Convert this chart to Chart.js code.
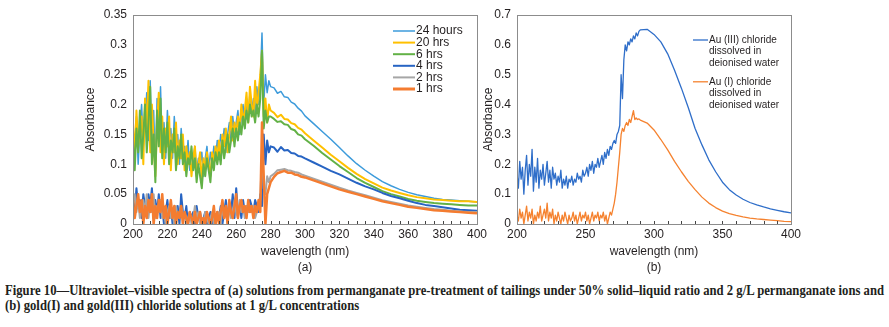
<!DOCTYPE html>
<html>
<head>
<meta charset="utf-8">
<script src="https://cdn.jsdelivr.net/npm/chart.js@4.4.1/dist/chart.umd.min.js"></script>
<style>
  body { margin: 0; background: #fff; width: 889px; height: 327px; position: relative; overflow: hidden; }
  #boxA { position: absolute; left: 0; top: 0; }
  #boxB { position: absolute; left: 440px; top: 0; }
  .caption { position: absolute; left: 5px; font-family: 'Liberation Serif', 'DejaVu Serif', serif; font-weight: bold;
             font-size: 14px; line-height: 15px; color: #231f20; white-space: nowrap; transform-origin: 0 0; }
</style>
</head>
<body>
<canvas id="boxA" width="490" height="275"></canvas>
<canvas id="boxB" width="364" height="275"></canvas>
<div class="caption" id="cap1" style="top:283px">Figure 10—Ultraviolet–visible spectra of (a) solutions from permanganate pre-treatment of tailings under 50% solid–liquid ratio and 2 g/L permanganate ions and</div>
<div class="caption" id="cap2" style="top:298px">(b) gold(I) and gold(III) chloride solutions at 1 g/L concentrations</div>
<script>
// ---- panel (a) : wavelength (nm) ----
const waveA = [200, 201, 202, 203, 204, 205, 206, 207, 208, 209,
  210, 211, 212, 213, 214, 215, 216, 217, 218, 219,
  220, 221, 222, 223, 224, 225, 226, 227, 228, 229,
  230, 231, 232, 233, 234, 235, 236, 237, 238, 239,
  240, 241, 242, 243, 244, 245, 246, 247, 248, 249,
  250, 251, 252, 253, 254, 255, 256, 257, 258, 259,
  260, 261, 262, 263, 264, 265, 266, 267, 268, 269,
  270, 271, 272, 273, 274, 275, 276, 277, 278, 279,
  280, 282, 284, 286, 288, 290, 292, 294, 296, 298, 300,
  305, 310, 315, 320, 325, 330, 335, 340, 345, 350,
  355, 360, 365, 370, 375, 380, 385, 390, 395, 400];

const hours24 = [0.15, 0.12, 0.18, 0.10, 0.16, 0.20, 0.13, 0.17, 0.22, 0.14,
  0.24, 0.12, 0.19, 0.09, 0.21, 0.15, 0.23, 0.13, 0.17, 0.11,
  0.19, 0.14, 0.16, 0.11, 0.18, 0.13, 0.15, 0.10, 0.16, 0.12,
  0.13, 0.10, 0.14, 0.09, 0.12, 0.11, 0.13, 0.09, 0.11, 0.10,
  0.12, 0.08, 0.11, 0.13, 0.09, 0.12, 0.10, 0.13, 0.11, 0.14,
  0.12, 0.15, 0.13, 0.16, 0.12, 0.15, 0.17, 0.14, 0.18, 0.15,
  0.17, 0.19, 0.15, 0.18, 0.20, 0.16, 0.21, 0.18, 0.22, 0.19,
  0.21, 0.18, 0.23, 0.20, 0.24, 0.32, 0.20, 0.25, 0.22, 0.24,
  0.23, 0.228, 0.219, 0.222, 0.213, 0.212, 0.204, 0.201, 0.194, 0.189, 0.181,
  0.168, 0.155, 0.142, 0.128, 0.114, 0.101, 0.090, 0.080, 0.071, 0.064,
  0.058, 0.053, 0.049, 0.046, 0.043, 0.041, 0.040, 0.039, 0.038, 0.037];

const hrs20 = [0.17, 0.11, 0.19, 0.13, 0.15, 0.18, 0.10, 0.21, 0.16, 0.24,
  0.12, 0.20, 0.14, 0.08, 0.17, 0.22, 0.12, 0.18, 0.10, 0.16,
  0.13, 0.18, 0.09, 0.15, 0.12, 0.17, 0.10, 0.14, 0.11, 0.15,
  0.09, 0.13, 0.10, 0.12, 0.08, 0.11, 0.13, 0.08, 0.10, 0.12,
  0.07, 0.11, 0.09, 0.12, 0.10, 0.08, 0.12, 0.10, 0.13, 0.11,
  0.14, 0.11, 0.15, 0.13, 0.16, 0.12, 0.15, 0.18, 0.14, 0.17,
  0.15, 0.18, 0.16, 0.20, 0.17, 0.19, 0.22, 0.17, 0.23, 0.20,
  0.18, 0.24, 0.19, 0.22, 0.25, 0.29, 0.18, 0.21, 0.17, 0.20,
  0.19, 0.186, 0.179, 0.183, 0.176, 0.175, 0.169, 0.167, 0.161, 0.158, 0.152,
  0.140, 0.128, 0.116, 0.105, 0.094, 0.084, 0.075, 0.068, 0.061, 0.056,
  0.052, 0.048, 0.045, 0.043, 0.041, 0.040, 0.039, 0.038, 0.038, 0.037];

const hrs6 = [0.14, 0.09, 0.16, 0.12, 0.19, 0.11, 0.15, 0.20, 0.12, 0.17,
  0.23, 0.10, 0.15, 0.07, 0.19, 0.13, 0.21, 0.11, 0.16, 0.12,
  0.17, 0.10, 0.14, 0.12, 0.16, 0.09, 0.13, 0.11, 0.15, 0.10,
  0.12, 0.08, 0.11, 0.10, 0.13, 0.09, 0.11, 0.07, 0.10, 0.08,
  0.06, 0.10, 0.08, 0.11, 0.09, 0.07, 0.11, 0.09, 0.12, 0.10,
  0.12, 0.10, 0.14, 0.11, 0.13, 0.15, 0.12, 0.14, 0.16, 0.13,
  0.16, 0.14, 0.17, 0.15, 0.18, 0.16, 0.19, 0.17, 0.20, 0.18,
  0.19, 0.17, 0.20, 0.18, 0.21, 0.29, 0.16, 0.19, 0.17, 0.18,
  0.18, 0.176, 0.171, 0.172, 0.167, 0.166, 0.159, 0.157, 0.150, 0.148, 0.142,
  0.131, 0.119, 0.108, 0.097, 0.087, 0.077, 0.069, 0.062, 0.055, 0.050,
  0.046, 0.042, 0.039, 0.037, 0.035, 0.034, 0.033, 0.032, 0.031, 0.031];

const hrs4 = [0.05, 0.02, 0.06, 0.03, 0.04, 0.01, 0.05, 0.03, 0.02, 0.05,
  0.03, 0.06, 0.01, 0.04, 0.02, 0.05, 0.01, 0.03, 0.00, 0.02,
  0.04, 0.01, 0.03, 0.00, 0.02, 0.01, 0.03, 0.00, 0.05, 0.02,
  0.01, 0.03, 0.00, 0.02, 0.01, 0.02, 0.00, 0.03, 0.01, 0.02,
  0.00, 0.01, 0.02, 0.00, 0.01, 0.02, 0.00, 0.01, 0.00, 0.02,
  0.01, 0.03, 0.00, 0.02, 0.04, 0.01, 0.03, 0.02, 0.05, 0.01,
  0.06, 0.02, 0.03, 0.01, 0.04, 0.02, 0.03, 0.02, 0.04, 0.03,
  0.02, 0.04, 0.03, 0.02, 0.05, 0.03, 0.15, 0.10, 0.14, 0.12,
  0.13, 0.128, 0.121, 0.129, 0.123, 0.124, 0.119, 0.118, 0.114, 0.113, 0.110,
  0.103, 0.096, 0.089, 0.083, 0.076, 0.069, 0.063, 0.058, 0.052, 0.047,
  0.043, 0.039, 0.035, 0.032, 0.030, 0.028, 0.026, 0.024, 0.023, 0.022];

const hrs2 = [0.03, 0.05, 0.02, 0.04, 0.01, 0.03, 0.04, 0.02, 0.05, 0.01,
  0.04, 0.02, 0.05, 0.01, 0.03, 0.02, 0.04, 0.01, 0.02, 0.00,
  0.02, 0.03, 0.01, 0.02, 0.00, 0.03, 0.01, 0.02, 0.03, 0.01,
  0.02, 0.00, 0.01, 0.02, 0.00, 0.01, 0.03, 0.01, 0.02, 0.00,
  0.01, 0.00, 0.02, 0.01, 0.00, 0.01, 0.02, 0.00, 0.01, 0.01,
  0.02, 0.00, 0.03, 0.01, 0.02, 0.00, 0.03, 0.01, 0.02, 0.04,
  0.02, 0.01, 0.04, 0.02, 0.03, 0.01, 0.03, 0.02, 0.03, 0.02,
  0.03, 0.01, 0.02, 0.03, 0.04, 0.12, 0.06, 0.05, 0.08, 0.07,
  0.08, 0.084, 0.090, 0.091, 0.092, 0.090, 0.089, 0.087, 0.086, 0.083, 0.081,
  0.076, 0.071, 0.066, 0.061, 0.056, 0.052, 0.048, 0.044, 0.040, 0.037,
  0.034, 0.031, 0.029, 0.027, 0.025, 0.024, 0.022, 0.021, 0.020, 0.020];

const hrs1 = [0.04, 0.01, 0.03, 0.05, 0.02, 0.04, 0.00, 0.03, 0.01, 0.04,
  0.02, 0.05, 0.00, 0.03, 0.01, 0.04, 0.02, 0.05, 0.01, 0.03,
  0.00, 0.02, 0.04, 0.01, 0.03, 0.00, 0.02, 0.01, 0.03, 0.00,
  0.02, 0.01, 0.00, 0.02, 0.01, 0.00, 0.02, 0.00, 0.01, 0.02,
  0.00, 0.01, 0.00, 0.02, 0.01, 0.00, 0.01, 0.03, 0.00, 0.02,
  0.00, 0.02, 0.04, 0.01, 0.03, 0.00, 0.04, 0.02, 0.01, 0.03,
  0.05, 0.01, 0.03, 0.04, 0.02, 0.03, 0.01, 0.04, 0.02, 0.03,
  0.01, 0.03, 0.02, 0.04, 0.02, 0.17, 0.08, 0.00, 0.05, 0.06,
  0.07, 0.079, 0.085, 0.087, 0.089, 0.086, 0.086, 0.083, 0.082, 0.079, 0.078,
  0.073, 0.068, 0.063, 0.058, 0.054, 0.050, 0.046, 0.042, 0.038, 0.035,
  0.032, 0.029, 0.027, 0.025, 0.023, 0.022, 0.021, 0.020, 0.019, 0.018];

// ---- panel (b) ----
const waveB = [200, 201, 202, 203, 204, 205, 206, 207, 208, 209,
  210, 211, 212, 213, 214, 215, 216, 217, 218, 219,
  220, 221, 222, 223, 224, 225, 226, 227, 228, 229,
  230, 231, 232, 233, 234, 235, 236, 237, 238, 239,
  240, 241, 242, 243, 244, 245, 246, 247, 248, 249,
  250, 251, 252, 253, 254, 255, 256, 257, 258, 259,
  260, 261, 262, 263, 264, 265, 266, 267, 268, 269,
  270, 271, 272, 273, 274, 275, 276, 277, 278, 279,
  280, 281, 282, 283, 284, 285, 286, 287, 288, 289, 290,
  295, 300, 305, 310, 315, 320, 325, 330, 335, 340, 345,
  350, 355, 360, 365, 370, 375, 380, 385, 390, 395, 400];

const auIII = [0.17, 0.12, 0.21, 0.15, 0.19, 0.10, 0.18, 0.23, 0.13, 0.20,
  0.16, 0.25, 0.11, 0.19, 0.14, 0.22, 0.12, 0.18, 0.15, 0.20,
  0.13, 0.17, 0.21, 0.14, 0.18, 0.12, 0.19, 0.15, 0.17, 0.13,
  0.16, 0.14, 0.18, 0.12, 0.15, 0.13, 0.16, 0.12, 0.15, 0.14,
  0.16, 0.13, 0.15, 0.14, 0.17, 0.15, 0.16, 0.14, 0.18, 0.16,
  0.17, 0.19, 0.16, 0.20, 0.18, 0.21, 0.17, 0.20, 0.19, 0.22,
  0.19, 0.21, 0.23, 0.20, 0.24, 0.22, 0.25, 0.23, 0.26, 0.25,
  0.27, 0.28, 0.27, 0.30, 0.31, 0.33, 0.50, 0.42, 0.55, 0.60,
  0.58, 0.61, 0.60, 0.62, 0.61, 0.63, 0.62, 0.64, 0.63, 0.645, 0.65,
  0.652, 0.635, 0.610, 0.570, 0.515, 0.455, 0.390, 0.320, 0.265, 0.215, 0.175,
  0.140, 0.115, 0.097, 0.083, 0.072, 0.064, 0.057, 0.051, 0.046, 0.041, 0.037];

const auI = [0.03, 0.01, 0.05, 0.02, 0.04, 0.00, 0.03, 0.06, 0.01, 0.04,
  0.02, 0.05, 0.00, 0.03, 0.01, 0.04, 0.02, 0.06, 0.01, 0.03,
  0.05, 0.02, 0.07, 0.01, 0.04, 0.02, 0.05, 0.00, 0.03, 0.01,
  0.04, 0.02, 0.00, 0.03, 0.01, 0.04, 0.02, 0.00, 0.03, 0.01,
  0.02, 0.04, 0.01, 0.03, 0.00, 0.02, 0.04, 0.01, 0.03, 0.02,
  0.04, 0.01, 0.03, 0.00, 0.02, 0.04, 0.01, 0.03, 0.02, 0.04,
  0.01, 0.03, 0.02, 0.04, 0.01, 0.03, 0.00, 0.02, 0.04, 0.03,
  0.05, 0.07, 0.10, 0.14, 0.19, 0.24, 0.30, 0.32, 0.31, 0.33,
  0.34, 0.33, 0.35, 0.34, 0.36, 0.38, 0.35, 0.355, 0.35, 0.352, 0.348,
  0.338, 0.315, 0.283, 0.248, 0.210, 0.175, 0.143, 0.115, 0.090, 0.070, 0.055,
  0.043, 0.035, 0.029, 0.024, 0.020, 0.017, 0.015, 0.013, 0.011, 0.009, 0.008];

Chart.defaults.font.family = 'Arial, "Liberation Sans", sans-serif';
Chart.defaults.color = '#231f20';

function points(xs, ys) {
    return xs.map(function(x, i) { return { x: x, y: ys[i] }; });
}

// box round the plot area, small inward ticks on the bottom axis, and the legend
const framePlugin = {
    id: 'frame',
    afterDraw: function(chart, args, opts) {
        const ctx = chart.ctx;
        const a = chart.chartArea;
        const xs = chart.scales.x;
        ctx.save();
        ctx.strokeStyle = '#8c8c8c';
        ctx.lineWidth = 1;
        ctx.strokeRect(Math.round(a.left) + 0.5, Math.round(a.top) + 0.5,
            Math.round(a.right - a.left), Math.round(a.bottom - a.top));
        ctx.strokeStyle = '#444';
        for (let v = xs.min + opts.minorStep; v < xs.max; v += opts.minorStep) {
            const px = Math.round(xs.getPixelForValue(v)) + 0.5;
            ctx.beginPath();
            ctx.moveTo(px, a.bottom);
            ctx.lineTo(px, a.bottom - 3);
            ctx.stroke();
        }
        // legend
        const lg = opts.legend;
        ctx.font = lg.font;
        ctx.fillStyle = '#231f20';
        ctx.textBaseline = 'middle';
        let y = lg.y;
        chart.data.datasets.forEach(function(ds) {
            const lines = Array.isArray(ds.label) ? ds.label : [ds.label];
            ctx.strokeStyle = ds.borderColor;
            ctx.lineWidth = ds.legendWidth || ds.borderWidth;
            ctx.beginPath();
            ctx.moveTo(lg.x, y);
            ctx.lineTo(lg.x + lg.lineLen, y);
            ctx.stroke();
            lines.forEach(function(t, k) {
                ctx.fillText(t, lg.x + lg.lineLen + 1, y + k * lg.rowH);
            });
            y += lines.length * lg.rowH + lg.gap;
        });
        ctx.restore();
    }
};

function axisFont() { return { size: 12 }; }

// panel (a)
new Chart(document.getElementById('boxA').getContext('2d'), {
    type: 'line',
    data: {
        datasets: [
            { label: '24 hours', data: points(waveA, hours24), borderColor: '#3d9bdb', borderWidth: 1.5, order: 6 },
            { label: '20 hrs', data: points(waveA, hrs20), borderColor: '#ffc000', borderWidth: 2, order: 5 },
            { label: '6 hrs', data: points(waveA, hrs6), borderColor: '#62b146', borderWidth: 2, order: 4 },
            { label: '4 hrs', data: points(waveA, hrs4), borderColor: '#2764c3', borderWidth: 2, order: 3 },
            { label: '2 hrs', data: points(waveA, hrs2), borderColor: '#a6a6a6', borderWidth: 2, order: 2 },
            { label: '1 hrs', data: points(waveA, hrs1), borderColor: '#f47c30', borderWidth: 2.5, legendWidth: 3, order: 1 }
        ]
    },
    options: {
        responsive: false,
        animation: false,
        elements: { point: { radius: 0 }, line: { tension: 0, borderJoinStyle: 'round' } },
        layout: { padding: { left: 79, top: 15, right: 8, bottom: 0 } },
        plugins: {
            legend: { display: false },
            tooltip: { enabled: false },
            frame: { minorStep: 5, legend: { x: 393, y: 31, lineLen: 22, rowH: 11.6, gap: 0, font: '12px Arial, "Liberation Sans", sans-serif' } }
        },
        scales: {
            x: {
                type: 'linear', min: 200, max: 400,
                ticks: { stepSize: 20, padding: 3, font: axisFont(), maxRotation: 0 },
                grid: { display: false, drawTicks: false },
                border: { color: '#8c8c8c' },
                title: { display: true, text: ['wavelength (nm)', '(a)'], font: { size: 12, lineHeight: 1.3 }, padding: { top: 0, bottom: 0 } },
                afterFit: function(s) { s.height = 51; }
            },
            y: {
                min: 0, max: 0.35,
                ticks: { stepSize: 0.05, padding: 6, font: axisFont(), callback: function(v) { return String(+v.toFixed(2)); } },
                grid: { display: false, drawTicks: false },
                border: { color: '#8c8c8c' },
                title: { display: true, text: 'Absorbance', font: { size: 12 } },
                afterFit: function(s) { s.width = 54; }
            }
        }
    },
    plugins: [framePlugin]
});

// panel (b)
new Chart(document.getElementById('boxB').getContext('2d'), {
    type: 'line',
    data: {
        datasets: [
            { label: ['Au (III) chloride', 'dissolved in', 'deionised water'], data: points(waveB, auIII), borderColor: '#2f6ec9', borderWidth: 1.3 },
            { label: ['Au (I) chloride', 'dissolved in', 'deionised water'], data: points(waveB, auI), borderColor: '#f5822f', borderWidth: 1.3 }
        ]
    },
    options: {
        responsive: false,
        animation: false,
        elements: { point: { radius: 0 }, line: { tension: 0, borderJoinStyle: 'round' } },
        layout: { padding: { left: 37, top: 15, right: 9, bottom: 0 } },
        plugins: {
            legend: { display: false },
            tooltip: { enabled: false },
            frame: { minorStep: 10, legend: { x: 253, y: 40, lineLen: 15, rowH: 11.6, gap: 7, font: '10px Arial, "Liberation Sans", sans-serif' } }
        },
        scales: {
            x: {
                type: 'linear', min: 200, max: 400,
                ticks: { stepSize: 50, padding: 3, font: axisFont(), maxRotation: 0 },
                grid: { display: false, drawTicks: false },
                border: { color: '#8c8c8c' },
                title: { display: true, text: ['wavelength (nm)', '(b)'], font: { size: 12, lineHeight: 1.3 }, padding: { top: 0, bottom: 0 } },
                afterFit: function(s) { s.height = 51; }
            },
            y: {
                min: 0, max: 0.7,
                ticks: { stepSize: 0.1, padding: 6, font: axisFont(), callback: function(v) { return String(+v.toFixed(1)); } },
                grid: { display: false, drawTicks: false },
                border: { color: '#8c8c8c' },
                title: { display: true, text: 'Absorbance', font: { size: 12 } },
                afterFit: function(s) { s.width = 40; }
            }
        }
    },
    plugins: [framePlugin]
});

// squeeze the caption so the first line fills the width like the printed figure
const cap1 = document.getElementById('cap1');
const cap2 = document.getElementById('cap2');
const k = 879 / cap1.getBoundingClientRect().width;
cap1.style.transform = 'scaleX(' + k + ')';
cap2.style.transform = 'scaleX(' + k + ')';
</script>
</body>
</html>
